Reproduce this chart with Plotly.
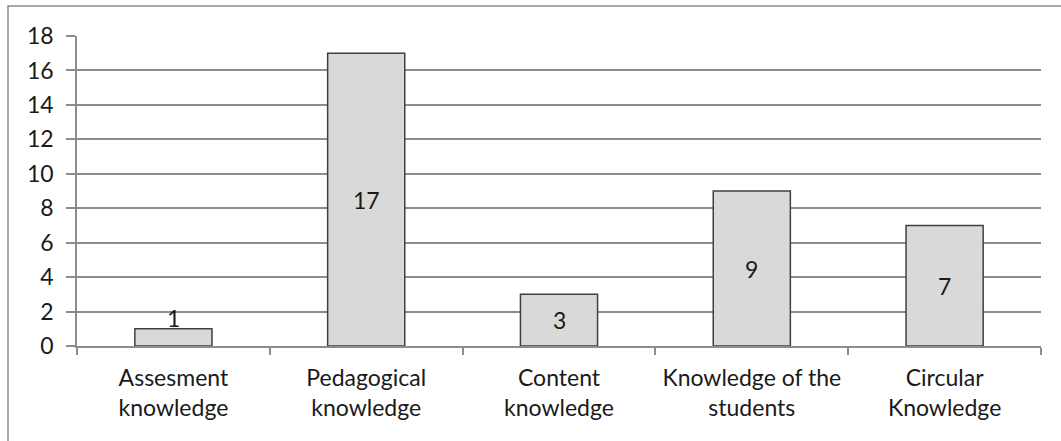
import plotly.graph_objects as go

categories = ["Assesment<br>knowledge", "Pedagogical<br>knowledge", "Content<br>knowledge",
              "Knowledge of the<br>students", "Circular<br>Knowledge"]
counts = [1, 17, 3, 9, 7]
y_ticks = [0, 2, 4, 6, 8, 10, 12, 14, 16, 18]

W, H = 1061, 441
ML, MR, MT, MB = 77, 20, 36, 95
PW, PH = W - ML - MR, H - MT - MB

text_color = "#1a1a1a"
grid_color = "#8c8c8c"
font_family = "Lato, Carlito, Calibri, sans-serif"
FS = 23

fig = go.Figure(go.Bar(
    x=categories,
    y=counts,
    width=0.4,
    marker=dict(color="#d9d9d9", line=dict(color="#404040", width=1.5)),
    textposition="none",
    hoverinfo="skip",
))

# value labels: centred in tall bars, resting on top of very short bars
for cat, v in zip(categories, counts):
    small = v < 2
    fig.add_annotation(
        x=cat, y=v if small else v / 2,
        yanchor="bottom" if small else "middle",
        yshift=-5 if small else 0,
        text=str(v), showarrow=False,
        font=dict(family=font_family, size=FS, color=text_color),
    )

# chart border
fig.add_shape(type="rect", xref="paper", yref="paper",
              x0=(8 - ML) / PW, x1=1.2, y0=-0.6, y1=1 + (MT - 6) / PH,
              line=dict(color=grid_color, width=1.5), fillcolor="rgba(0,0,0,0)",
              layer="below")

fig.update_layout(
    width=W, height=H,
    margin=dict(l=ML, r=MR, t=MT, b=MB),
    paper_bgcolor="white", plot_bgcolor="white",
    font=dict(family=font_family, size=FS, color=text_color),
    showlegend=False,
    xaxis=dict(
        type="category",
        showgrid=False,
        showline=True, linecolor=grid_color, linewidth=1.5,
        ticks="outside", tickson="boundaries", ticklen=7,
        tickcolor=grid_color, tickwidth=1.5,
        ticklabelstandoff=11,
        tickfont=dict(family=font_family, size=FS, color=text_color),
    ),
    yaxis=dict(
        range=[0, 18],
        tickvals=y_ticks,
        showgrid=True, gridcolor=grid_color, gridwidth=1.5,
        zeroline=False,
        showline=True, linecolor=grid_color, linewidth=1.5,
        ticks="outside", ticklen=9, tickcolor=grid_color, tickwidth=1.5,
        ticklabelstandoff=8,
        tickfont=dict(family=font_family, size=FS, color=text_color),
    ),
)

fig.write_html("out.html")
